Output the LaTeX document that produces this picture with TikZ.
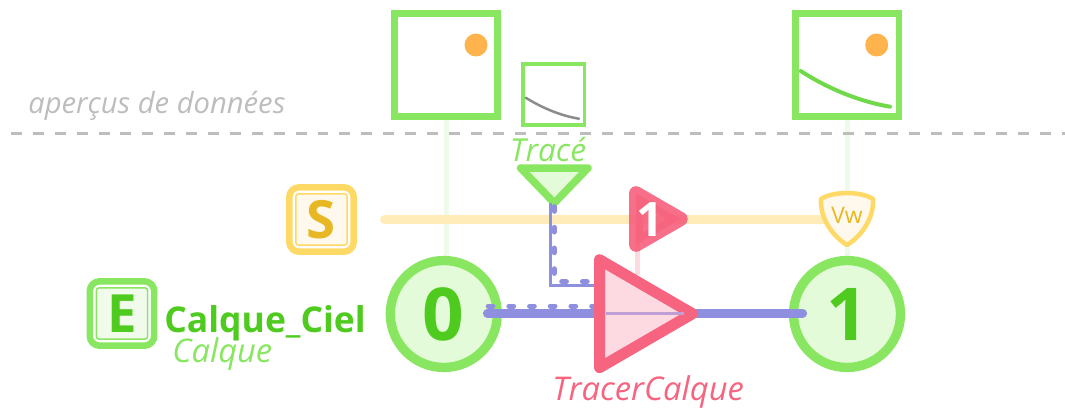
\documentclass[tikz,border=0pt]{standalone}
\usepackage{fontspec}
\setmainfont{Open Sans}
\usetikzlibrary{shapes,calc,positioning,backgrounds}
\definecolor{gline}{HTML}{88E660}
\definecolor{gfill}{HTML}{E3FBD8}
\definecolor{gpale}{HTML}{EFFBE9}
\definecolor{gboxf}{HTML}{F1FBEC}
\definecolor{gtext}{HTML}{4FCB1F}
\definecolor{gcurve}{HTML}{6FD94A}
\definecolor{yline}{HTML}{FFD966}
\definecolor{ypale}{HTML}{FFECB8}
\definecolor{yfill}{HTML}{FFF8EC}
\definecolor{ytext}{HTML}{E8B824}
\definecolor{pline}{HTML}{F6647F}
\definecolor{pfill}{HTML}{FDD9E1}
\definecolor{bline}{HTML}{8F8FE0}
\definecolor{bpink}{HTML}{C09FD6}
\definecolor{dorange}{HTML}{FFB34D}
\definecolor{lgray}{HTML}{BDBDBD}
\begin{document}
\begin{tikzpicture}[x=0.02cm, y=-0.02cm]
        \tikzstyle{preview} = [rectangle, draw=gline, inner sep=0pt, outer sep=0pt]
        \tikzstyle{dot} = [circle, fill=dorange, inner sep=0pt, minimum size=0.46cm]
        \tikzstyle{varnode} = [circle, draw=gline, fill=gfill, line width=0.186cm, text=gtext, font=\bfseries\fontsize{41.5}{50}\selectfont, minimum size=2.14cm, inner sep=0pt, outer sep=0pt]
        \tikzstyle{tri} = [isosceles triangle, isosceles triangle stretches, shape border rotate=0, inner sep=0pt, outer sep=0pt, line join=round, anchor=apex]
        \tikzstyle{lbl} = [font=\itshape\fontsize{18.6}{22}\selectfont, anchor=base west, inner sep=0pt]
        \tikzstyle{outerbox} = [rectangle, rounded corners=0.2cm, fill=white, line width=0.13cm, minimum size=1.29cm, inner sep=0pt, outer sep=0pt]
        \tikzstyle{innerbox} = [rectangle, rounded corners=0.06cm, line width=0.03cm, minimum size=1.03cm, inner sep=0pt, outer sep=0pt, font=\bfseries\fontsize{30}{36}\selectfont]
        \tikzset{pale/.style={draw=gpale, line width=0.1cm}}
        \tikzset{flow/.style={draw=bline, line cap=round, line width=0.174cm}}
        \tikzset{thinflow/.style={draw=bline, line width=0.06cm}}
        \tikzset{dots/.style={draw=bline, line cap=round, line width=0.1cm, dash pattern=on 0.094cm off 0.32cm}}

        \useasboundingbox (0,0) rectangle (1065,409);

        \coordinate (sepL) at (11,133);
        \coordinate (sepR) at (1065,133);
        \draw [lgray, line width=0.06cm, dash pattern=on 0.219cm off 0.219cm] (sepL) -- (sepR);
        \node [lbl, text=lgray, font=\itshape\fontsize{16.6}{20}\selectfont] (apercus) at (28,113) {aperçus de données};

        \node [preview, line width=0.13cm, minimum size=2.07cm] (pvA) at (446,65) {};
        \node [dot] (dotA) at (476,45) {};
        \node [preview, line width=0.07cm, minimum size=1.23cm] (pvT) at (553.5,94.5) {};
        \draw [color=gray!90, line width=0.05cm, line cap=round] (525.7,97.7) .. controls (543,108.5) and (562,116) .. (579,118.7);
        \node [preview, line width=0.13cm, minimum size=2.07cm] (pvB) at (847,65) {};
        \node [dot] (dotB) at (876.7,45) {};
        \draw [gcurve, line width=0.08cm, line cap=round] (800.7,71) .. controls (830,90) and (862,102) .. (890,106.7);

        \node [varnode] (c0) at (443.8,314) {0};
        \node [varnode] (c1) at (847,314) {1};

        \node [outerbox, draw=yline] (Sout) at (321.5,219.5) {};
        \node [innerbox, draw=yline, fill=yfill, text=ytext] (S) at (Sout) {S};
        \node [outerbox, draw=gline] (Eout) at (122,313.5) {};
        \node [innerbox, draw=gline, fill=gboxf, text=gtext] (E) at (Eout) {E};

        \node [anchor=base west, inner sep=0pt, text=gtext, font=\bfseries\fontsize{20.2}{24}\selectfont] (name) at (164,332) {Calque\_Ciel};
        \node [lbl, text=gline] (kind) at (172,362) {Calque};

        \draw [flow, shorten <=0.87cm, shorten >=0.885cm] ($(c0.center)+(0,-0.7)$) -- ($(c1.center)+(0,-0.7)$);

        \node [tri, draw=gline, fill=gfill, line width=0.15cm, minimum width=1.35cm, minimum height=0.7cm, shape border rotate=-90] (trc) at (554.3,203) {};
        \node [lbl, text=gline, font=\itshape\fontsize{18}{22}\selectfont] (trclbl) at (509.5,161) {Tracé};

        \coordinate (dotsA) at (488.2,306);
        \coordinate (dotsB) at (600,306);
        \coordinate (elbowA) at ($(trc.apex)+(-3.6,0)$);
        \coordinate (elbowB) at (600,285.7);
        \coordinate (dotsC) at ($(trc.apex)+(-0.3,3.65)$);
        \coordinate (dotsD) at (600,281.7);
        \draw [dots] (dotsA) -- (dotsB);
        \draw [thinflow] (elbowA) |- (elbowB);
        \draw [dots] (dotsC) |- (dotsD);

        \node [tri, draw=pline, fill=pfill, line width=0.22cm, minimum width=2.16cm, minimum height=1.86cm] (layer) at (692.5,313.7) {};
        \draw [bpink, line width=0.06cm] ($(layer.apex)+(-87,0)$) -- ($(layer.apex)+(-9,0)$);
        \node [lbl, text=pline] (layerlbl) at (552,400) {TracerCalque};

        \coordinate (vwc) at (847,215);
        \draw [shift={(vwc)}, draw=yline, fill=yfill, line width=0.09cm, line join=round] (0,-22) .. controls (10,-22) and (20,-20) .. (26,-16) .. controls (27,2) and (16,20) .. (0,30) .. controls (-16,20) and (-27,2) .. (-26,-16) .. controls (-20,-20) and (-10,-22) .. (0,-22) -- cycle;
        \node [text=ytext, font=\fontsize{13}{15}\selectfont, inner sep=0pt] (vw) at (vwc) {Vw};

        \node [tri, draw=pline, fill=pline, opacity=0.93, line width=0.28cm, minimum width=1.034cm, minimum height=0.894cm] (flag) at (680.7,219) {};
        \node [text=white, font=\bfseries\fontsize{27}{33}\selectfont, inner sep=0pt] (flagnum) at (650,219.5) {1};

        \begin{pgfonlayer}{background}
            \draw [pale] (pvA.south) -- (pvA.south |- c0.north);
            \draw [pale] (pvB.south) -- (c1.north);
            \draw [draw=ypale, line width=0.18cm, line cap=round, shorten <=1.26cm] (Sout.center) -- (Sout.center -| vw.center);
            \draw [draw=pfill, line width=0.11cm] ($(flag.apex)+(-43.4,0)$) -- ($(flag.apex)+(-43.4,56)$);
        \end{pgfonlayer}
\end{tikzpicture}
\end{document}
